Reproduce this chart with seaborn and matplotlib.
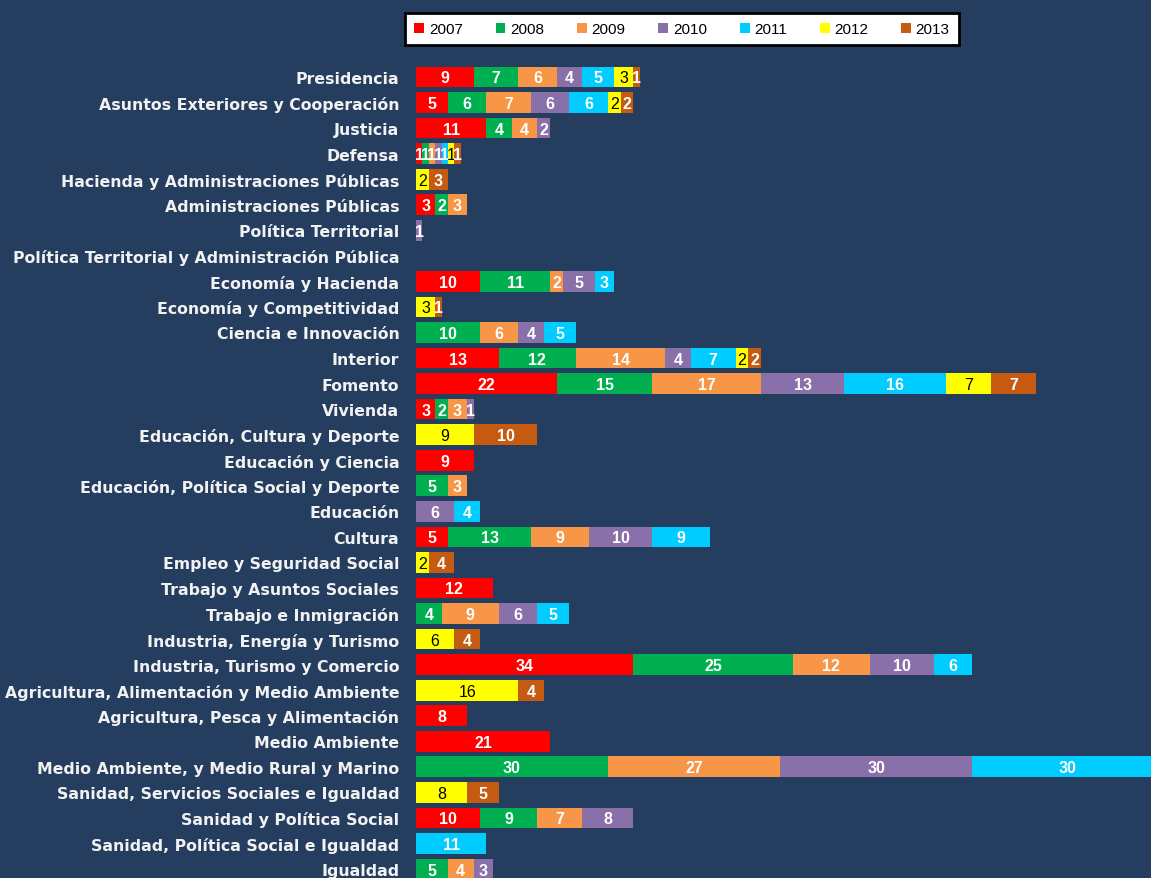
import numpy as np
import pandas as pd
import matplotlib
matplotlib.use("Agg")
import matplotlib.pyplot as plt
import matplotlib.patches as mpatches
import seaborn as sns

categories = [
    "Presidencia",
    "Asuntos Exteriores y Cooperación",
    "Justicia",
    "Defensa",
    "Hacienda y Administraciones Públicas",
    "Administraciones Públicas",
    "Política Territorial",
    "Política Territorial y Administración Pública",
    "Economía y Hacienda",
    "Economía y Competitividad",
    "Ciencia e Innovación",
    "Interior",
    "Fomento",
    "Vivienda",
    "Educación, Cultura y Deporte",
    "Educación y Ciencia",
    "Educación, Política Social y Deporte",
    "Educación",
    "Cultura",
    "Empleo y Seguridad Social",
    "Trabajo y Asuntos Sociales",
    "Trabajo e Inmigración",
    "Industria, Energía y Turismo",
    "Industria, Turismo y Comercio",
    "Agricultura, Alimentación y Medio Ambiente",
    "Agricultura, Pesca y Alimentación",
    "Medio Ambiente",
    "Medio Ambiente, y Medio Rural y Marino",
    "Sanidad, Servicios Sociales e Igualdad",
    "Sanidad y Política Social",
    "Sanidad, Política Social e Igualdad",
    "Igualdad",
]

years = ["2007", "2008", "2009", "2010", "2011", "2012", "2013"]

v2007 = [9, 5, 11, 1, 0, 3, 0, 0, 10, 0, 0, 13, 22, 3, 0, 9, 0, 0, 5, 0, 12, 0, 0, 34, 0, 8, 21, 0, 0, 10, 0, 0]
v2008 = [7, 6, 4, 1, 0, 2, 0, 0, 11, 0, 10, 12, 15, 2, 0, 0, 5, 0, 13, 0, 0, 4, 0, 25, 0, 0, 0, 30, 0, 9, 0, 5]
v2009 = [6, 7, 4, 1, 0, 3, 0, 0, 2, 0, 6, 14, 17, 3, 0, 0, 3, 0, 9, 0, 0, 9, 0, 12, 0, 0, 0, 27, 0, 7, 0, 4]
v2010 = [4, 6, 2, 1, 0, 0, 1, 0, 5, 0, 4, 4, 13, 1, 0, 0, 0, 6, 10, 0, 0, 6, 0, 10, 0, 0, 0, 30, 0, 8, 0, 3]
v2011 = [5, 6, 0, 1, 0, 0, 0, 0, 3, 0, 5, 7, 16, 0, 0, 0, 0, 4, 9, 0, 0, 5, 0, 6, 0, 0, 0, 30, 0, 0, 11, 0]
v2012 = [3, 2, 0, 1, 2, 0, 0, 0, 0, 3, 0, 2, 7, 0, 9, 0, 0, 0, 0, 2, 0, 0, 6, 0, 16, 0, 0, 0, 8, 0, 0, 0]
v2013 = [1, 2, 0, 1, 3, 0, 0, 0, 0, 1, 0, 2, 7, 0, 10, 0, 0, 0, 0, 4, 0, 0, 4, 0, 4, 0, 0, 0, 5, 0, 0, 0]

colors = ["#FF0000", "#00B050", "#F79646", "#8A70A8", "#00CCFF", "#FFFF00", "#C55A11"]
bg = "#253E5F"

series = [v2007, v2008, v2009, v2010, v2011, v2012, v2013]
vals = np.array(series, dtype=float)  # shape (7, n)
cum = np.cumsum(vals, axis=0)

sns.set_theme(style="white")
plt.rcParams["font.family"] = ["Liberation Sans", "DejaVu Sans"]

fig = plt.figure(figsize=(11.51, 8.79), dpi=100, facecolor=bg)
ax = fig.add_axes([416 / 1151, 1 - 882.8 / 879, 1 - 416 / 1151, (882.8 - 65.2) / 879])
ax.set_facecolor(bg)

# Draw cumulative totals from last year back to first so each segment shows
for i in range(len(years) - 1, -1, -1):
    df = pd.DataFrame({"Ministerio": categories, "total": cum[i]})
    sns.barplot(data=df, x="total", y="Ministerio", order=categories, orient="h",
                color=colors[i], saturation=1, width=0.81, linewidth=0, ax=ax)

# Segment labels
for i, yr in enumerate(years):
    for j, cat in enumerate(categories):
        v = vals[i, j]
        if v <= 0:
            continue
        start = cum[i, j] - v
        is_yellow = (i == 5)
        ax.text(start + v / 2, j + 0.04, f"{int(v)}", ha="center", va="center",
                fontsize=11.5, color="black" if is_yellow else "white",
                fontweight="normal" if is_yellow else "bold", clip_on=True)

ax.set_xlim(0, 115.0)
ax.set_ylim(len(categories) - 0.5, -0.5)
ax.set_xlabel("")
ax.set_ylabel("")
ax.set_xticks([])
for s in ax.spines.values():
    s.set_visible(False)
ax.tick_params(axis="y", length=0, pad=12, labelcolor="#F2F2F2")
for lbl in ax.get_yticklabels():
    lbl.set_fontweight("bold")
    lbl.set_fontfamily(["DejaVu Sans"])
    lbl.set_fontsize(11.3)

handles = [mpatches.Patch(facecolor=c, edgecolor="none", label=y) for c, y in zip(colors, years)]
leg = fig.legend(handles=handles, loc="center", bbox_to_anchor=(682 / 1151, 1 - 30 / 879),
                 ncol=7, frameon=True, fancybox=False, fontsize=11, framealpha=1,
                 handlelength=0.65, handleheight=0.65, handletextpad=0.3,
                 columnspacing=2.15, borderpad=0.6, borderaxespad=0)
leg.get_frame().set_edgecolor("black")
leg.get_frame().set_linewidth(2)
leg.get_frame().set_facecolor("white")
for t in leg.get_texts():
    t.set_color("black")

fig.savefig("out.png", dpi=100, facecolor=bg)
